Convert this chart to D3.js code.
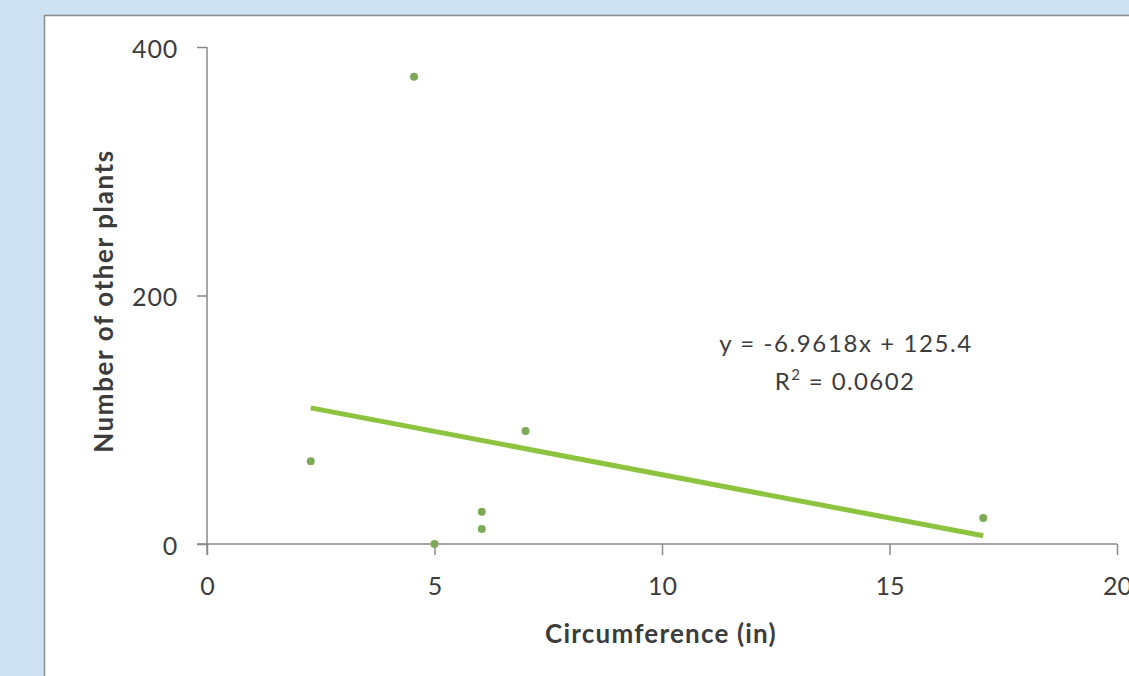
<!DOCTYPE html>
<html lang="en">
<head>
<meta charset="UTF-8">
<title>Circumference vs other plants</title>
<style>
    body {
        margin: 0;
        background-color: #cfe2f4;
        font-family: Lato, "Open Sans", sans-serif;
    }
</style>
</head>
<body>
<div id="chart"></div>
<script src="https://d3js.org/d3.v7.min.js"></script>
<script>
    // data
    const circumference = [2.28, 4.55, 5.0, 6.04, 6.04, 7.0, 17.06];
    const otherPlants = [66.5, 376, 0, 26, 12, 91, 21];
    const xTicks = [0, 5, 10, 15, 20];
    const yTicks = [0, 200, 400];
    const trendSlope = -6.9618;
    const trendIntercept = 125.4;
    const trendLabel = "y = -6.9618x + 125.4";
    const r2Label = "0.0602";

    const width = 1129, height = 676;
    const font = "Lato, 'Open Sans', sans-serif";
    const axisColor = "#8a8a8a";
    const textColor = "#3c3c3c";

    const svg = d3.select("#chart").append("svg")
        .attr("width", width)
        .attr("height", height)
        .style("display", "block");

    // white chart area, its right and bottom edges fall outside the picture
    svg.append("rect")
        .attr("x", 44.5).attr("y", 15.5)
        .attr("width", 1200).attr("height", 800)
        .attr("fill", "#ffffff")
        .attr("stroke", "#8c8c8c")
        .attr("stroke-width", 1.5);

    const x = d3.scaleLinear().domain([0, 20]).range([207, 1117]);
    const y = d3.scaleLinear().domain([0, 400]).range([544, 47]);

    const xAxis = svg.append("g")
        .attr("transform", `translate(0,${y(0)})`)
        .call(d3.axisBottom(x).tickValues(xTicks).tickSize(11).tickSizeOuter(0));
    xAxis.select(".domain").attr("stroke", axisColor).attr("stroke-width", 1.5)
        .attr("d", `M${x(0) - 10},0H${x(20)}`);
    xAxis.selectAll(".tick line").attr("stroke", axisColor).attr("stroke-width", 1.5);
    xAxis.selectAll(".tick text")
        .attr("y", 51).attr("dy", 0)
        .attr("fill", textColor).attr("font-size", 25)
        .attr("font-family", font);

    const yAxis = svg.append("g")
        .attr("transform", `translate(${x(0)},0)`)
        .call(d3.axisLeft(y).tickValues(yTicks).tickSize(10).tickSizeOuter(0));
    yAxis.select(".domain").attr("stroke", axisColor).attr("stroke-width", 1.5)
        .attr("d", `M0,${y(0) + 11}V${y(400)}`);
    yAxis.selectAll(".tick line").attr("stroke", axisColor).attr("stroke-width", 1.5);
    yAxis.selectAll(".tick text")
        .attr("x", -29).attr("dy", 10)
        .attr("fill", textColor).attr("font-size", 25)
        .attr("letter-spacing", 0.8)
        .attr("font-family", font);

    // axis titles
    svg.append("text")
        .attr("x", 661).attr("y", 643)
        .attr("text-anchor", "middle")
        .attr("font-size", 26).attr("font-weight", "bold")
        .attr("letter-spacing", 1.2)
        .attr("fill", textColor)
        .text("Circumference (in)");

    svg.append("text")
        .attr("transform", "translate(113,301) rotate(-90)")
        .attr("text-anchor", "middle")
        .attr("font-size", 26).attr("font-weight", "bold")
        .attr("letter-spacing", 1.6)
        .attr("fill", textColor)
        .text("Number of other plants");

    // linear trendline over the range of the data
    const xMin = d3.min(circumference), xMax = d3.max(circumference);
    svg.append("line")
        .attr("x1", x(xMin)).attr("y1", y(trendSlope * xMin + trendIntercept))
        .attr("x2", x(xMax)).attr("y2", y(trendSlope * xMax + trendIntercept))
        .attr("stroke", "#8cc43f")
        .attr("stroke-width", 5);

    // points
    svg.selectAll("circle.pt")
        .data(circumference)
        .enter().append("circle")
        .attr("class", "pt")
        .attr("cx", d => x(d))
        .attr("cy", (d, i) => y(otherPlants[i]))
        .attr("r", 4)
        .attr("fill", "#7eaa58");

    // equation label
    svg.append("text")
        .attr("x", 846).attr("y", 352)
        .attr("text-anchor", "middle")
        .attr("font-size", 24)
        .attr("letter-spacing", 1.6)
        .attr("fill", textColor)
        .text(trendLabel);

    const r2 = svg.append("text")
        .attr("x", 845).attr("y", 390)
        .attr("text-anchor", "middle")
        .attr("font-size", 24)
        .attr("letter-spacing", 1.4)
        .attr("fill", textColor);
    r2.append("tspan").text("R");
    r2.append("tspan").attr("dy", -10).attr("font-size", 15).text("2");
    r2.append("tspan").attr("dy", 10).text(" = " + r2Label);
</script>
</body>
</html>
